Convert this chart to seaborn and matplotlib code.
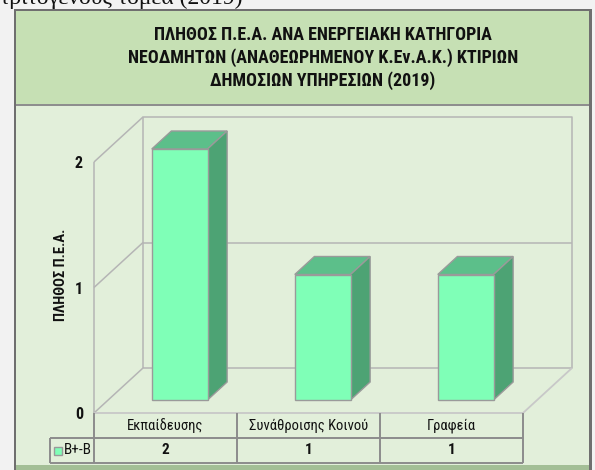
import numpy as np
import pandas as pd
import matplotlib
matplotlib.use("Agg")
import matplotlib.pyplot as plt
import seaborn as sns
from matplotlib.patches import Rectangle, Polygon
from matplotlib.lines import Line2D
from matplotlib.transforms import ScaledTranslation, IdentityTransform

# ---------------- data ----------------
categories = ["Εκπαίδευσης", "Συνάθροισης Κοινού", "Γραφεία"]
values = [2, 1, 1]
series_name = "B+-B"
yticks = [0, 1, 2]
title_lines = ["ΠΛΗΘΟΣ Π.Ε.Α. ΑΝΑ ΕΝΕΡΓΕΙΑΚΗ ΚΑΤΗΓΟΡΙΑ",
               "ΝΕΟΔΜΗΤΩΝ (ΑΝΑΘΕΩΡΗΜΕΝΟΥ Κ.Εν.Α.Κ.) ΚΤΙΡΙΩΝ",
               "ΔΗΜΟΣΙΩΝ ΥΠΗΡΕΣΙΩΝ (2019)"]
ylabel = "ΠΛΗΘΟΣ Π.Ε.Α."
caption = "τριτογενούς τομέα (2019)"

# ---------------- style ----------------
W, H, DPI = 595, 470, 100
sns.set_theme(style="white")
plt.rcParams["font.family"] = ["Roboto Condensed", "DejaVu Sans"]

FRONT = "#7FFFB7"
TOP = "#5CBF8A"
SIDE = "#4DA374"
EDGE = "#9A9A9A"
WALL = "#B5B5B5"
TABLE = "#8C8C8C"

df = pd.DataFrame({"category": categories, "value": values})

fig = plt.figure(figsize=(W / DPI, H / DPI), dpi=DPI)
fig.patch.set_facecolor("#F2F2F2")


def rect_px(x0, y0, x1, y1, **kw):
    fig.add_artist(Rectangle((x0 / W, 1 - y1 / H), (x1 - x0) / W, (y1 - y0) / H,
                             transform=fig.transFigure, zorder=-5, **kw))


# chart frame
rect_px(14, 9, 592, 470, facecolor="#6F6F6F", edgecolor="none")
rect_px(16, 11, 589, 104, facecolor="#C6E0B4", edgecolor="none")
rect_px(16, 104, 589, 106, facecolor="#8E8E8E", edgecolor="none")
rect_px(16, 106, 589, 465, facecolor="#E2EFDA", edgecolor="none")
rect_px(16, 465, 589, 470, facecolor="#A3BF96", edgecolor="none")

# caption cut at the top
fig.text(0.0 / W, 1 - 4 / H, caption, family=["Liberation Serif", "DejaVu Serif"],
         fontsize=17, va="baseline", ha="left", color="#111111")

# title
for i, line in enumerate(title_lines):
    fig.text(323 / W, 1 - (35 + 23 * i) / H, line, ha="center", va="center",
             fontsize=13, fontweight="bold", color="#111111")

# main axes = front plane of the 3-D box
ax = fig.add_axes([94 / W, 1 - 413 / H, (523 - 94) / W, (413 - 162) / H])
ax.patch.set_alpha(0)
sns.barplot(data=df, x="category", y="value", ax=ax, color=FRONT, saturation=1,
            width=0.39, edgecolor=EDGE, linewidth=1.0, zorder=3)
ax.set_xlim(-0.5, len(categories) - 0.5)
ax.set_ylim(0, max(yticks))
for s in ax.spines.values():
    s.set_visible(False)
ax.set_xticks([])
ax.set_xlabel("")
ax.set_ylabel("")
ax.set_yticks(yticks)
ax.set_yticklabels([str(t) for t in yticks], fontsize=11.5, fontweight="bold", color="#111111")
ax.tick_params(axis="y", length=0, pad=8)

DX, DY = 49, 45          # depth of the box (pixels)
D_FRONT, D_BACK = 13 / 45, 31 / 45


def P(x, y, d=0.0):
    px = ax.transData.transform((x, y))
    return (px[0] + d * DX, px[1] + d * DY)


def line_disp(pts, color, lw, z=1):
    xs = [p[0] for p in pts]
    ys = [p[1] for p in pts]
    ax.add_artist(Line2D(xs, ys, transform=IdentityTransform(), color=color, lw=lw,
                         zorder=z, clip_on=False, solid_capstyle="butt"))


x0, x1 = -0.5, len(categories) - 0.5
ymax = max(yticks)
# back wall
line_disp([P(x0, 0, 1), P(x1, 0, 1), P(x1, ymax, 1), P(x0, ymax, 1), P(x0, 0, 1)], WALL, 1.1)
for t in yticks[1:-1]:
    line_disp([P(x0, t, 1), P(x1, t, 1)], WALL, 1.1)
# side wall
line_disp([P(x0, 0, 0), P(x0, ymax, 0)], WALL, 1.1)
for t in yticks:
    line_disp([P(x0, t, 0), P(x0, t, 1)], WALL, 1.1)
# floor
line_disp([P(x0, 0, 0), P(x1, 0, 0), P(x1, 0, 1)], "#C8C8C8", 1.3)

# 3-D bars: shift front faces, add top & side faces
shift = ScaledTranslation(D_FRONT * DX / DPI, D_FRONT * DY / DPI, fig.dpi_scale_trans)
for p in list(ax.patches):
    bx0 = p.get_x()
    bx1 = bx0 + p.get_width()
    h = p.get_height()
    p.set_transform(ax.transData + shift)
    p.set_clip_on(False)
    top = [P(bx0, h, D_FRONT), P(bx1, h, D_FRONT), P(bx1, h, D_BACK), P(bx0, h, D_BACK)]
    side = [P(bx1, 0, D_FRONT), P(bx1, h, D_FRONT), P(bx1, h, D_BACK), P(bx1, 0, D_BACK)]
    for pts, col in ((top, TOP), (side, SIDE)):
        ax.add_artist(Polygon(pts, closed=True, transform=IdentityTransform(),
                              facecolor=col, edgecolor=EDGE, lw=1.0, zorder=2.9, clip_on=False))

# data table
ROW = 25
LEG = 44
bx, by = P(x0, 0, 0)
ex, _ = P(x1, 0, 0)
line_disp([(bx - LEG, by - ROW), (ex, by - ROW)], TABLE, 1.4, 4)
line_disp([(bx - LEG, by - 2 * ROW), (ex, by - 2 * ROW)], TABLE, 1.4, 4)
line_disp([(bx - LEG, by - ROW), (bx - LEG, by - 2 * ROW)], TABLE, 1.4, 4)
for k in range(len(categories) + 1):
    cx, _ = P(k - 0.5, 0, 0)
    line_disp([(cx, by), (cx, by - 2 * ROW)], TABLE, 1.4, 4)

lab_shift1 = ScaledTranslation(0, -12.5 / DPI, fig.dpi_scale_trans)
lab_shift2 = ScaledTranslation(0, -37.5 / DPI, fig.dpi_scale_trans)
for i, (c, v) in enumerate(zip(categories, values)):
    ax.text(i, 0, c, transform=ax.transData + lab_shift1, ha="center", va="center",
            fontsize=10.5, color="#111111", clip_on=False)
    ax.text(i, 0, str(v), transform=ax.transData + lab_shift2, ha="center", va="center",
            fontsize=11, fontweight="bold", color="#111111", clip_on=False)

# legend key in table
ax.add_artist(Rectangle((bx - LEG + 4, by - 2 * ROW + 8.5), 8, 8, transform=IdentityTransform(),
                        facecolor=FRONT, edgecolor=EDGE, lw=1.0, clip_on=False, zorder=5))
ax.text(bx - LEG + 14, by - 1.5 * ROW, series_name, transform=IdentityTransform(),
        ha="left", va="center", fontsize=11, color="#111111", clip_on=False)

# y label
fig.text(61 / W, 1 - 275 / H, ylabel, rotation=90, ha="center", va="center",
         fontsize=10.5, fontweight="bold", color="#111111")

fig.savefig("out.png", dpi=DPI, facecolor=fig.get_facecolor())
